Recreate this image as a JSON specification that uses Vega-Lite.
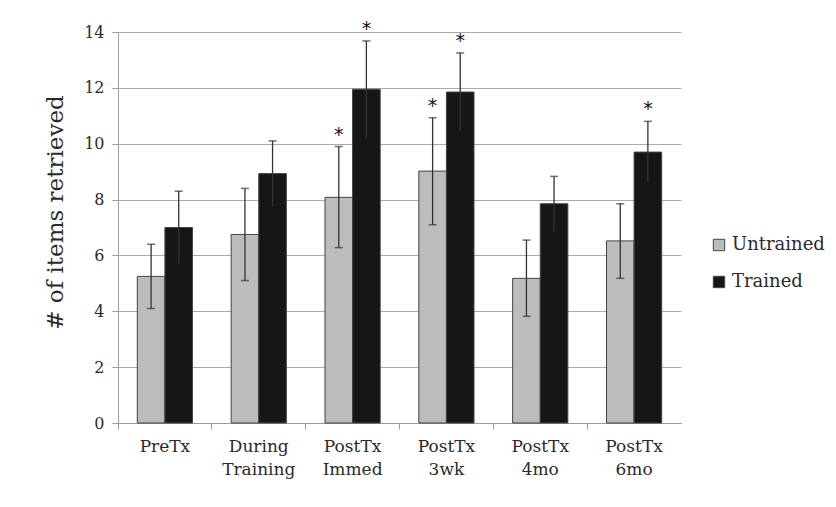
{
  "$schema": "https://vega.github.io/schema/vega-lite/v6.json",
  "width": 563,
  "height": 391,
  "autosize": {"type": "none"},
  "padding": {"left": 118, "top": 32, "right": 155, "bottom": 84},
  "background": "white",
  "config": {
    "font": "DejaVu Serif",
    "view": {"stroke": null},
    "axis": {"labelFont": "DejaVu Serif", "titleFont": "DejaVu Serif", "labelColor": "#2a2a2a", "titleColor": "#2a2a2a"}
  },
  "data": {
    "values": [
      {"time": "PreTx", "group": "Untrained", "mean": 5.25, "lo": 4.1, "hi": 6.4, "star": ""},
      {"time": "PreTx", "group": "Trained", "mean": 7.0, "lo": 5.7, "hi": 8.3, "star": ""},
      {"time": "During Training", "group": "Untrained", "mean": 6.75, "lo": 5.1, "hi": 8.4, "star": ""},
      {"time": "During Training", "group": "Trained", "mean": 8.93, "lo": 7.75, "hi": 10.1, "star": ""},
      {"time": "PostTx Immed", "group": "Untrained", "mean": 8.08, "lo": 6.28, "hi": 9.9, "star": "*"},
      {"time": "PostTx Immed", "group": "Trained", "mean": 11.95, "lo": 10.2, "hi": 13.68, "star": "*"},
      {"time": "PostTx 3wk", "group": "Untrained", "mean": 9.02, "lo": 7.1, "hi": 10.93, "star": "*"},
      {"time": "PostTx 3wk", "group": "Trained", "mean": 11.85, "lo": 10.45, "hi": 13.25, "star": "*"},
      {"time": "PostTx 4mo", "group": "Untrained", "mean": 5.18, "lo": 3.82, "hi": 6.55, "star": ""},
      {"time": "PostTx 4mo", "group": "Trained", "mean": 7.85, "lo": 6.85, "hi": 8.83, "star": ""},
      {"time": "PostTx 6mo", "group": "Untrained", "mean": 6.52, "lo": 5.18, "hi": 7.85, "star": ""},
      {"time": "PostTx 6mo", "group": "Trained", "mean": 9.7, "lo": 8.6, "hi": 10.8, "star": "*"}
    ]
  },
  "encoding": {
    "x": {
      "field": "time", "type": "nominal", "sort": null,
      "scale": {"paddingInner": 0, "paddingOuter": 0},
      "axis": {
        "title": null, "labelAngle": 0, "labelFontSize": 17, "labelPadding": 9,
        "labelExpr": "split(datum.label, ' ')", "labelLineHeight": 23,
        "bandPosition": 0, "tickSize": 6, "tickColor": "#999", "domainColor": "#999", "grid": false
      }
    },
    "xOffset": {
      "field": "group", "type": "nominal", "sort": ["Untrained", "Trained"],
      "scale": {"paddingInner": 0, "paddingOuter": 0.7}
    }
  },
  "layer": [
    {
      "mark": {"type": "bar", "stroke": "#444", "strokeWidth": 1},
      "encoding": {
        "y": {
          "field": "mean", "type": "quantitative",
          "scale": {"domain": [0, 14]},
          "axis": {
            "values": [0, 2, 4, 6, 8, 10, 12, 14], "title": "# of items retrieved",
            "titleFontSize": 23, "titleFontWeight": "normal", "titlePadding": 16, "titleY": 180,
            "labelFontSize": 16, "labelPadding": 8, "tickSize": 6, "tickColor": "#999",
            "domainColor": "#999", "gridColor": "#aaa", "gridWidth": 1.2
          }
        },
        "fill": {
          "field": "group", "type": "nominal",
          "scale": {"domain": ["Untrained", "Trained"], "range": ["#bcbcbc", "#161616"]},
          "legend": {
            "title": null, "orient": "none", "legendX": 592, "legendY": 204,
            "symbolType": "square", "symbolSize": 130, "symbolStrokeColor": "#444", "symbolStrokeWidth": 1,
            "labelFontSize": 18, "labelColor": "#2a2a2a", "rowPadding": 19, "labelOffset": 4
          }
        }
      }
    },
    {
      "mark": {"type": "rule", "color": "#333", "strokeWidth": 1.3},
      "encoding": {
        "y": {"field": "lo", "type": "quantitative"},
        "y2": {"field": "hi"}
      }
    },
    {
      "mark": {"type": "tick", "color": "#333", "thickness": 1.5, "size": 8},
      "encoding": {"y": {"field": "hi", "type": "quantitative"}}
    },
    {
      "transform": [{"filter": "datum.group == 'Untrained'"}],
      "mark": {"type": "tick", "color": "#333", "thickness": 1.5, "size": 8},
      "encoding": {"y": {"field": "lo", "type": "quantitative"}}
    },
    {
      "mark": {"type": "text", "fontSize": 19, "dy": -2, "baseline": "bottom", "color": "#111", "font": "DejaVu Sans"},
      "encoding": {
        "y": {"field": "hi", "type": "quantitative"},
        "text": {"field": "star"}
      }
    }
  ]
}
